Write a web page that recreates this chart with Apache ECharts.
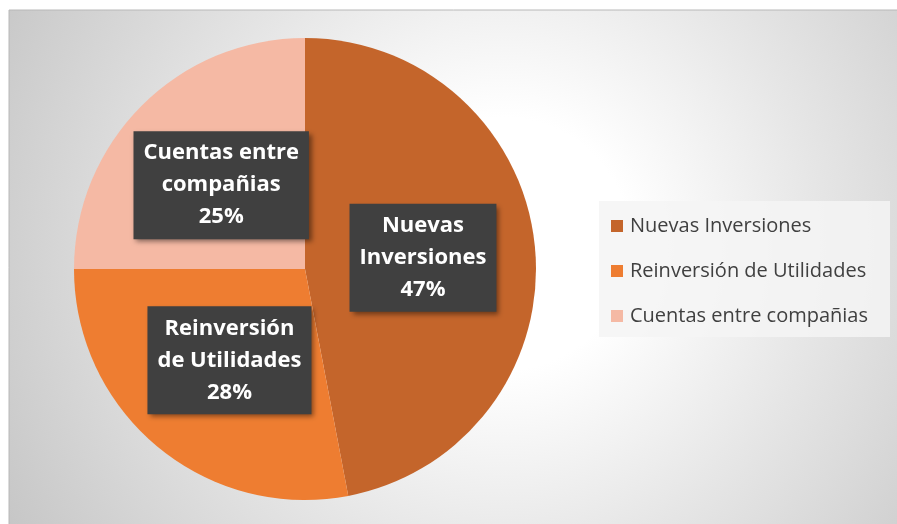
<!DOCTYPE html>
<html>
<head>
<meta charset="utf-8">
<script src="https://cdn.jsdelivr.net/npm/echarts@6/dist/echarts.min.js"></script>
<style>
  html, body { margin: 0; padding: 0; background: #fff; }
  #chart { width: 897px; height: 524px; }
</style>
</head>
<body>
<div id="chart"></div>
<script>
const categories = ['Nuevas Inversiones', 'Reinversión de Utilidades', 'Cuentas entre compañias']
const labelText = ['Nuevas\nInversiones', 'Reinversión\nde Utilidades', 'Cuentas entre\ncompañias']
const values = [47, 28, 25]
const colors = ['#C4652B', '#EE7D31', '#F5B9A4']

const chart = echarts.init(document.getElementById('chart'))

const option = {
  animation: false,
  graphic: [
    {
      type: 'rect',
      shape: { x: 9, y: 10, width: 900, height: 520 },
      style: {
        fill: {
          type: 'radial', x: 0.55, y: 0.45, r: 1.1,
          colorStops: [
            { offset: 0, color: '#ffffff' },
            { offset: 0.22, color: '#ffffff' },
            { offset: 0.55, color: '#e6e6e6' },
            { offset: 1, color: '#c6c6c6' }
          ]
        },
        stroke: '#b8b8b8',
        lineWidth: 1
      },
      z: -10
    }
  ],
  legend: {
    orient: 'vertical',
    left: 599,
    top: 201,
    backgroundColor: 'rgba(245,245,245,0.85)',
    padding: [15, 22, 11, 12],
    itemGap: 25,
    itemWidth: 12,
    itemHeight: 12,
    icon: 'rect',
    textStyle: { fontFamily: 'Open Sans', fontSize: 20, color: '#404040', padding: [0, 0, 0, 2] },
    data: categories
  },
  series: [
    {
      type: 'pie',
      center: [305, 269],
      radius: 231,
      startAngle: 90,
      clockwise: true,
      color: colors,
      data: categories.map((name, i) => ({ name, value: values[i] })),
      label: {
        show: true,
        position: 'inside',
        formatter: p => labelText[p.dataIndex] + '\n' + p.value + '%',
        fontFamily: 'Open Sans',
        fontWeight: 'bold',
        fontSize: 22,
        lineHeight: 32,
        color: '#ffffff',
        backgroundColor: '#404040',
        padding: [6, 10, 6, 10],
        shadowColor: 'rgba(0,0,0,0.45)',
        shadowBlur: 5,
        shadowOffsetX: 3,
        shadowOffsetY: 3
      },
      labelLine: { show: false },
      emphasis: { disabled: true }
    }
  ]
}
chart.setOption(option)
</script>
</body>
</html>
